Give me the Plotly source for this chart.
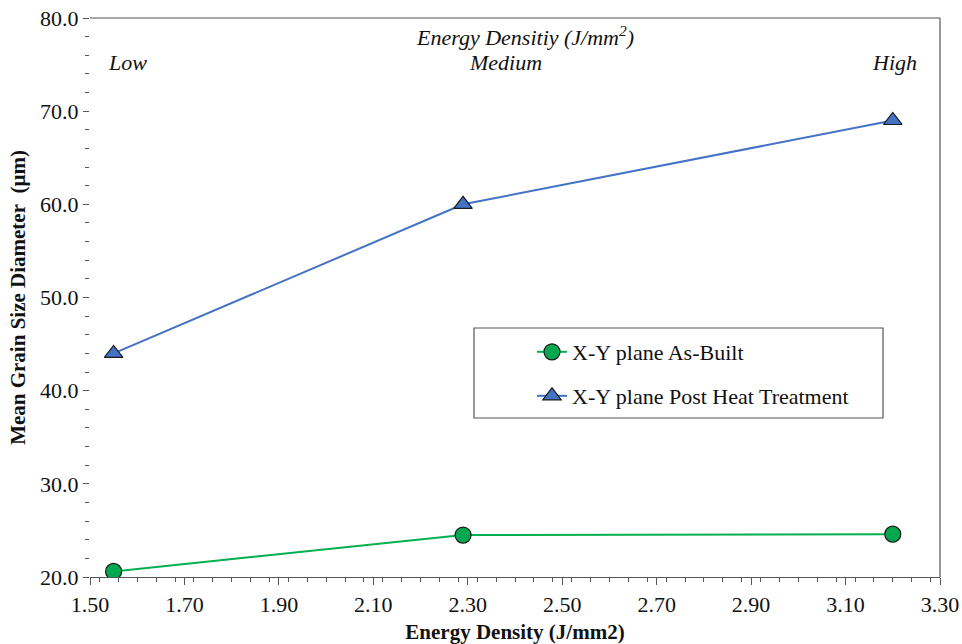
import plotly.graph_objects as go

# Energy density (J/mm^2) for the three process settings
energy_density = [1.55, 2.29, 3.20]
level_labels = ["Low", "Medium", "High"]

# Mean grain size diameter (µm)
as_built = [20.6, 24.5, 24.6]
post_heat = [44.0, 60.0, 69.0]

FONT = "Liberation Serif, Times New Roman, serif"
W, H = 962, 644
L, R, T, B = 90, 22, 18, 67
PW, PH = W - L - R, H - T - B


def px_x(p):
    return (p - L) / PW


def px_y(p):
    return (H - B - p) / PH


fig = go.Figure()
fig.add_trace(go.Scatter(
    x=energy_density, y=as_built, mode="lines+markers",
    name="X-Y plane As-Built", legend="legend",
    line=dict(color="#00B050", width=2),
    marker=dict(symbol="circle", size=16, color="#00A84F",
                line=dict(color="#1a1a1a", width=1.2)),
))
fig.add_trace(go.Scatter(
    x=energy_density, y=post_heat, mode="lines+markers",
    name="X-Y plane Post Heat Treatment", legend="legend2",
    line=dict(color="#4472C4", width=2),
    marker=dict(symbol="triangle-up", size=16, color="#4472C4",
                line=dict(color="#1a1a1a", width=1.2)),
))

# Level labels across the top of the plot
label_x = [127, 505, 894]
for px, lab in zip(label_x, level_labels):
    fig.add_annotation(x=px_x(px), y=px_y(63), text=f"<i>{lab}</i>", showarrow=False,
                       xref="paper", yref="paper", xanchor="center", yanchor="middle",
                       font=dict(family=FONT, size=22, color="#111"))
fig.add_annotation(x=px_x(525), y=px_y(36),
                   text="<i>Energy Densitiy (J/mm<sup>2</sup>)</i>",
                   showarrow=False, xref="paper", yref="paper",
                   xanchor="center", yanchor="middle",
                   font=dict(family=FONT, size=22, color="#111"))

# Frame: top and right edges, legend box
fig.add_shape(type="line", xref="paper", yref="paper", x0=0, x1=1, y0=1, y1=1,
              line=dict(color="#555", width=1.2))
fig.add_shape(type="line", xref="paper", yref="paper", x0=1, x1=1, y0=0, y1=1,
              line=dict(color="#555", width=1.2))
fig.add_shape(type="rect", xref="paper", yref="paper",
              x0=px_x(474), x1=px_x(883), y0=px_y(418), y1=px_y(328),
              line=dict(color="#555", width=1.2), fillcolor="rgba(0,0,0,0)")

legend_common = dict(xanchor="left", yanchor="middle", bgcolor="rgba(0,0,0,0)",
                     borderwidth=0, itemwidth=30,
                     font=dict(family=FONT, size=22, color="#111"))

fig.update_layout(
    width=W, height=H,
    margin=dict(l=L, r=R, t=T, b=B, autoexpand=False),
    paper_bgcolor="white", plot_bgcolor="white",
    font=dict(family=FONT, color="#111"),
    showlegend=True,
    legend=dict(x=px_x(532), y=px_y(352), **legend_common),
    legend2=dict(x=px_x(532), y=px_y(396), **legend_common),
    xaxis=dict(
        range=[1.50, 3.30], tick0=1.50, dtick=0.20, tickformat=".2f",
        showgrid=False, zeroline=False, automargin=False,
        showline=True, linecolor="#555", linewidth=1.2,
        ticks="outside", ticklen=7, tickcolor="#555",
        minor=dict(dtick=0.04, ticks="outside", ticklen=4, tickcolor="#555"),
        tickfont=dict(family=FONT, size=22, color="#111"),
        title=dict(text="<b>Energy Density (J/mm2)</b>", standoff=12,
                   font=dict(family=FONT, size=21, color="#111")),
    ),
    yaxis=dict(
        range=[20, 80], dtick=10, tickformat=".1f",
        showgrid=False, zeroline=False, showline=False, automargin=False,
        ticks="outside", ticklen=6, tickcolor="#555",
        minor=dict(dtick=2, ticks="outside", ticklen=4, tickcolor="#555"),
        tickfont=dict(family=FONT, size=22, color="#111"),
        title=dict(text="<b>Mean Grain Size Diameter\u00a0\u00a0(μm)</b>", standoff=8,
                   font=dict(family=FONT, size=21, color="#111")),
    ),
)

fig.write_html("out.html")
